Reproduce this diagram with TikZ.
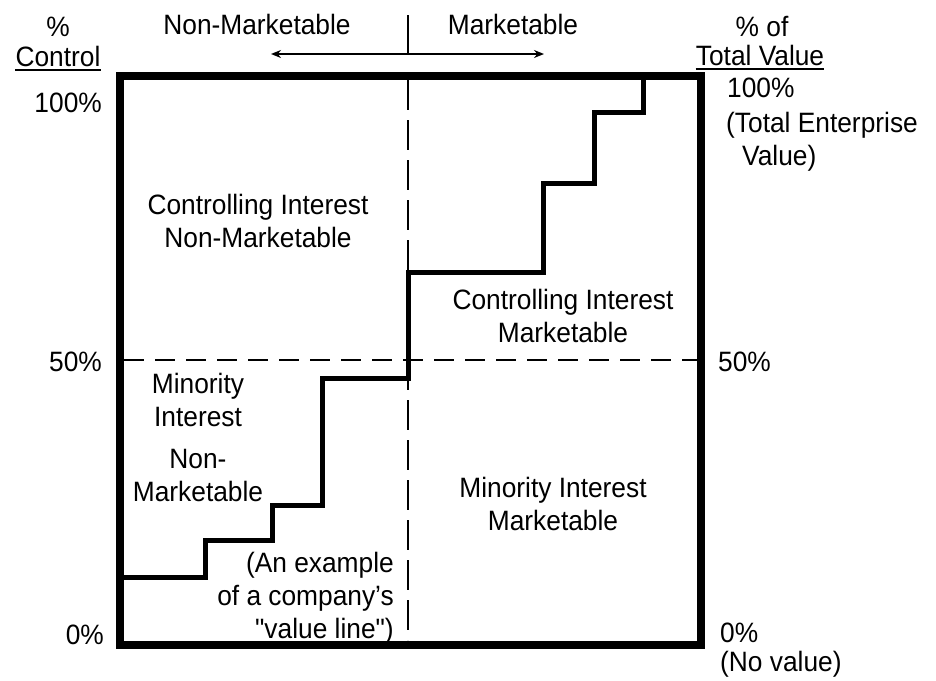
\documentclass[tikz,border=0pt]{standalone}
\usepackage{fontspec}
\setmainfont{Liberation Sans}[FakeStretch=0.94, Ligatures=TeXOff]
\usetikzlibrary{arrows.meta}
\begin{document}
\begin{tikzpicture}[x=1pt,y=-1pt,
  lbl/.style={font=\fontsize{28}{33}\selectfont, inner sep=0pt, align=center},
  lblr/.style={lbl, align=right},
  frame/.style={line width=8pt, line join=miter},
  valueline/.style={line width=5pt, line join=miter},
  dashv/.style={line width=1.6pt, dash pattern=on 30pt off 10pt},
  dashh/.style={line width=1.6pt, dash pattern=on 20pt off 11pt},
  ulinestyle/.style={line width=1.6pt},
  dirarrow/.style={line width=2.6pt, {Stealth[length=10pt,width=8pt]}-{Stealth[length=10pt,width=8pt]}},
]
\useasboundingbox (0,0) rectangle (936,680);
% frame corners
\coordinate (TL) at (120,76);
\coordinate (BR) at (701,645);
% dashed guides
\coordinate (vtop) at (408,80);
\coordinate (vbot) at (408,640);
\coordinate (hl) at (124,360);
\coordinate (hr) at (697,360);
\draw[dashv] (vtop) -- (vbot);
\draw[dashh] (hl) -- (hr);
% top tick and arrow
\coordinate (ticktop) at (408,15);
\coordinate (tickbot) at (408,54);
\draw[line width=1.1pt] (ticktop) -- (tickbot);
\coordinate (arrL) at (271,54);
\coordinate (arrR) at (544,54);
\draw[dirarrow] (arrL) -- (arrR);
% value line
\draw[valueline] (120,577) -- (205,577) -- (205,540) -- (272,540) -- (272,505)
  -- (322,505) -- (322,378) -- (408,378) -- (408,272) -- (543,272)
  -- (543,183) -- (594,183) -- (594,112) -- (643,112) -- (643,76);
% frame
\draw[frame] (TL) rectangle (BR);
% header labels
\node[lbl] (pct) at (58,27) {\%};
\node[lbl, anchor=base] (ctl) at (58,66) {Control};
\draw[ulinestyle] ([yshift=-4pt]ctl.base west) -- ([yshift=-4pt]ctl.base east);
\node[lbl] (nm) at (257,24) {Non-Marketable};
\node[lbl] (mk) at (513,24) {Marketable};
\node[lbl] (pof) at (762,27) {\% of};
\node[lbl, anchor=base] (tv) at (760,65) {Total Value};
\draw[ulinestyle] ([yshift=-4pt]tv.base west) -- ([yshift=-4pt]tv.base east);
% left axis
\node[lbl, anchor=east] (l100) at (102,103) {100\%};
\node[lbl, anchor=east] (l50) at (102,362) {50\%};
\node[lbl, anchor=east] (l0) at (104,635) {0\%};
% right axis
\node[lbl, anchor=west] (r100) at (727,88) {100\%};
\node[lbl, anchor=west] (rte) at (726,125) {(Total Enterprise};
\node[lbl, anchor=west] (rval) at (742,158) {Value)};
\node[lbl, anchor=west] (r50) at (718,362) {50\%};
\node[lbl, anchor=west] (r0) at (720,633) {0\%};
\node[lbl, anchor=west] (rnv) at (720,664) {(No value)};
% quadrant labels
\node[lbl] (cinm) at (258,221) {Controlling Interest\\Non-Marketable};
\node[lbl] (cim) at (563,316) {Controlling Interest\\Marketable};
\node[lbl] (minm) at (198,437) {Minority\\Interest\\[9pt]Non-\\Marketable};
\node[lbl] (mim) at (553,504) {Minority Interest\\Marketable};
\node[lblr, anchor=east] (ex) at (394,598) {(An example\\of a company’s\\"value line")};
\end{tikzpicture}
\end{document}
